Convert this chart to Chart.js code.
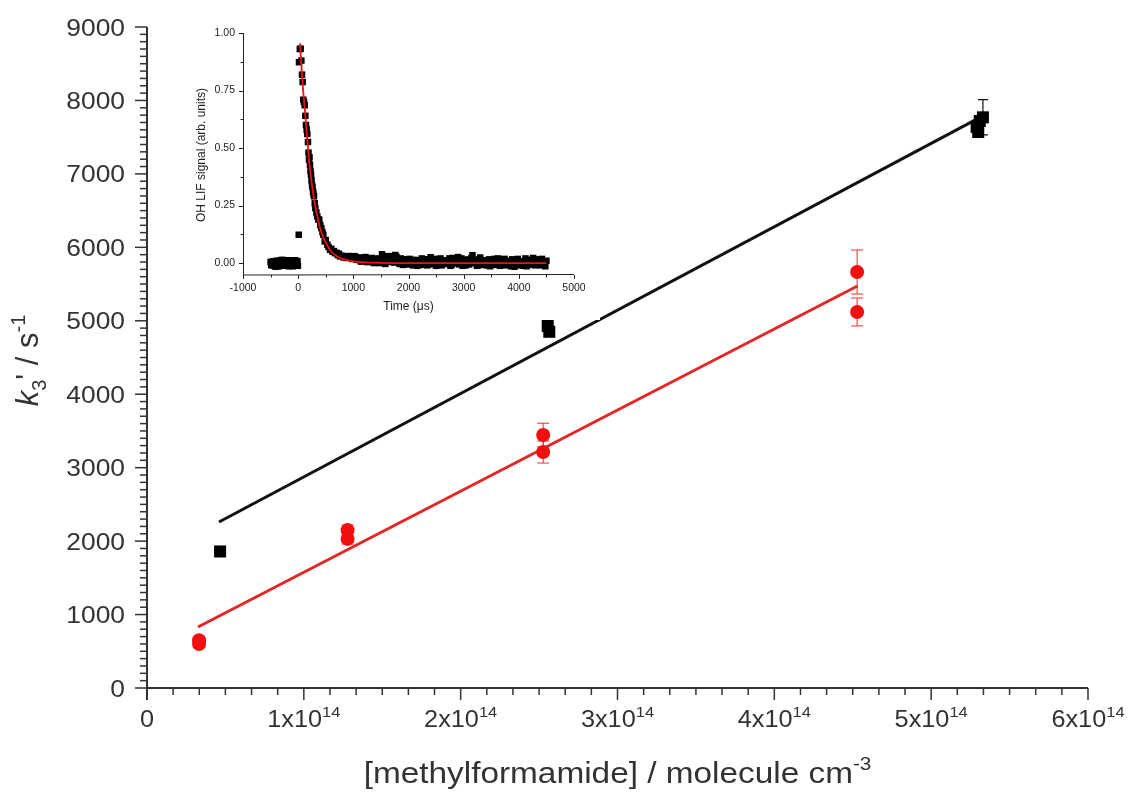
<!DOCTYPE html>
<html><head><meta charset="utf-8">
<script src="https://cdn.jsdelivr.net/npm/chart.js@4.4.1/dist/chart.umd.min.js"></script>
<style>
html,body{margin:0;padding:0;background:#fff;}
#wrap{position:relative;width:1132px;height:798px;overflow:hidden;}
#main{position:absolute;left:0;top:0;}
#inset{position:absolute;left:190px;top:15px;background:#fff;}
</style></head><body>
<div id="wrap"><canvas id="main" width="1132" height="798"></canvas><canvas id="inset" width="410" height="305"></canvas></div>
<script>
// ---------- MAIN CHART DATA ----------
const blackConc = [0.466e14, 2.555e14, 2.565e14, 5.29e14, 5.30e14, 5.31e14, 5.33e14];
const blackK    = [1859, 4930, 4850, 7640, 7570, 7720, 7770];
const blackErr  = [40, 50, 50, 60, 60, 60, 240];

const redConc = [0.332e14, 0.332e14, 1.279e14, 1.279e14, 2.526e14, 2.526e14, 4.528e14, 4.528e14];
const redK    = [650, 600, 2150, 2030, 3445, 3213, 5664, 5120];
const redErr  = [40, 40, 70, 70, 160, 150, 300, 190];

const blackFitConc = [0.459e14, 5.33e14];
const blackFitK    = [2260, 7789];
const redFitConc   = [0.325e14, 4.53e14];
const redFitK      = [830, 5474];

const yTickValues = [0,1000,2000,3000,4000,5000,6000,7000,8000,9000];
const yTickLabels = ['0','1000','2000','3000','4000','5000','6000','7000','8000','9000'];
const xTickValues = [0,1e14,2e14,3e14,4e14,5e14,6e14];
const xTickBase   = ['0','1x10','2x10','3x10','4x10','5x10','6x10'];
const xTickExp    = ['','14','14','14','14','14','14'];

// ---------- INSET DATA (OH LIF decay) ----------
const insetTime = [
 -500,-480,-460,-440,-420,-400,-380,-360,-340,-320,-300,-280,-260,-240,-220,-200,-180,-160,-140,-120,-100,-80,-60,-40,-20,-5,
 10,15,46,70,82,93,118,142,166,178,196,214,233,251,269,287,311,347,383,420,456,481,528,577,620,668,720,758,820,880,
 920,960,1000,1040,1080,1120,1160,1200,1240,1280,1320,1360,1400,1440,1480,1520,1560,1600,1640,1680,1720,1760,1800,1840,1880,1920,1960,
 2000,2040,2080,2120,2160,2200,2240,2280,2320,2360,2400,2440,2480,2520,2560,2600,2640,2680,2720,2760,2800,2840,2880,2920,2960,
 3000,3040,3080,3120,3160,3200,3240,3280,3320,3360,3400,3440,3480,3520,3560,3600,3640,3680,3720,3760,3800,3840,3880,3920,3960,
 4000,4040,4080,4120,4160,4200,4240,4280,4320,4360,4400,4440,4480,4500];
const insetSignal = [
 0.005,-0.010,0.000,-0.012,0.008,-0.005,0.010,-0.015,0.002,0.012,-0.008,0.006,-0.012,0.004,0.010,-0.006,0.012,-0.010,0.003,0.008,-0.014,0.006,0.012,-0.004,0.009,-0.012,
 0.123,0.873,0.932,0.819,0.787,0.710,0.686,0.600,0.561,0.526,0.449,0.427,0.384,0.340,0.312,0.290,0.239,0.203,0.188,0.152,0.123,0.094,0.080,0.058,0.050,0.043,0.035,0.029,0.025,0.022,
 0.030,0.024,0.020,0.026,0.018,0.012,0.022,0.015,0.008,0.020,0.010,0.004,0.016,0.008,0.000,0.038,0.012,0.020,0.005,0.030,0.018,0.035,0.006,-0.004,0.014,0.000,0.008,
 -0.006,0.010,-0.010,0.004,-0.012,0.012,0.020,-0.008,0.016,0.003,0.025,-0.006,0.010,0.000,0.014,-0.010,0.006,-0.004,0.012,-0.012,0.022,0.004,0.018,-0.006,0.020,
 0.008,-0.010,0.015,0.010,0.034,0.000,-0.012,0.016,0.004,-0.008,0.012,0.002,-0.014,0.010,0.018,-0.006,0.008,0.000,0.014,-0.010,0.006,-0.004,0.016,-0.016,0.010,
 -0.006,0.004,-0.012,0.020,0.008,-0.008,0.012,-0.004,0.006,0.016,-0.010,0.004,-0.014,0.010];
// interleaved samples (the dense baseline band)
const insetTime2 = [
 940,980,1020,1060,1100,1140,1180,1220,1260,1300,
 1340,1380,1420,1460,1500,1540,1580,1620,1660,1700,
 1740,1780,1820,1860,1900,1940,1980,2020,2060,2100,
 2140,2180,2220,2260,2300,2340,2380,2420,2460,2500,
 2540,2580,2620,2660,2700,2740,2780,2820,2860,2900,
 2940,2980,3020,3060,3100,3140,3180,3220,3260,3300,
 3340,3380,3420,3460,3500,3540,3580,3620,3660,3700,
 3740,3780,3820,3860,3900,3940,3980,4020,4060,4100,
 4140,4180,4220,4260,4300,4340,4380,4420,4460,
 -490,-450,-410,-370,-330,-290,-250,-210,-170,-130,-90,-50,-15,
 30,58,106,130,154,188,205,224,242,260,278,300,330,365,400,440,500,550,600,650,700,740,790,850,900];
const insetSignal2 = [
 0.028,0.018,0.030,0.014,0.024,0.006,0.018,0.026,0.004,0.016,
 0.022,0.000,0.012,0.020,0.006,0.026,-0.004,0.030,0.010,0.022,
 0.002,0.028,0.012,0.020,-0.008,0.016,0.004,0.018,-0.002,0.014,
 0.006,-0.008,0.004,0.016,0.000,-0.010,0.010,0.002,0.018,-0.012,
 0.008,0.020,-0.004,0.012,0.000,0.020,-0.008,0.012,-0.002,0.026,
 0.006,-0.012,0.014,0.002,-0.006,0.022,0.012,0.006,-0.010,0.024,
 0.000,0.010,-0.010,0.016,0.004,-0.008,0.012,0.020,-0.012,0.006,
 0.018,0.000,0.010,-0.014,0.012,0.004,0.018,-0.010,0.008,0.002,
 -0.014,0.014,0.000,0.022,-0.010,0.010,0.004,0.018,-0.006,
 -0.006,0.008,-0.016,0.004,-0.010,0.014,-0.004,0.008,-0.014,0.010,0.000,-0.010,0.006,
 0.930,0.880,0.700,0.640,0.580,0.480,0.460,0.400,0.360,0.330,0.300,0.260,0.220,0.190,0.165,0.135,0.100,0.070,0.062,0.052,0.044,0.040,0.032,0.026,0.030];
const insetFitTime   = [33,80,124,160,196,250,300,350,400,450,500,600,700,800,1000,1200,1500,2000,3000,4500];
const insetFitSignal = [0.955,0.78,0.66,0.55,0.45,0.34,0.26,0.20,0.15,0.115,0.09,0.05,0.03,0.018,0.007,0.003,0.001,0.0,0.0,0.0];

const iyTickValues = [0,0.25,0.5,0.75,1.0];
const iyTickLabels = ['0.00','0.25','0.50','0.75','1.00'];
const ixTickValues = [-1000,0,1000,2000,3000,4000,5000];
const ixTickLabels = ['-1000','0','1000','2000','3000','4000','5000'];

// ---------- helpers ----------
const FAM = '"Liberation Sans", Arial, sans-serif';
function fontStr(p, base){ return (p.it?'italic ':'') + (p.s||base) + 'px ' + FAM; }
function drawRich(ctx, parts, x, y, base, align, sx){
  sx = sx||1;
  let w = 0;
  parts.forEach(p=>{ ctx.font = fontStr(p, base); w += ctx.measureText(p.t).width; });
  ctx.save();
  ctx.translate(x, y); ctx.scale(sx, 1);
  let cx = align==='center' ? -w/2 : (align==='right' ? -w : 0);
  ctx.textAlign = 'left'; ctx.textBaseline = 'alphabetic';
  parts.forEach(p=>{ ctx.font = fontStr(p, base); ctx.fillText(p.t, cx, p.dy||0); cx += ctx.measureText(p.t).width; });
  ctx.restore();
}
function pts(xs, ys){ return xs.map((x,i)=>({x:x, y:ys[i]})); }

// ---------- main plugins ----------
const errorBars = {
  id:'errorBars',
  beforeDatasetsDraw(chart){
    const ctx = chart.ctx, xs = chart.scales.x, ys = chart.scales.y;
    ctx.save();
    [[blackConc,blackK,blackErr,'#111',1.2,5],[redConc,redK,redErr,'#e53030',1,6]].forEach(([X,Y,E,c,lw,cap])=>{
      ctx.strokeStyle = c; ctx.lineWidth = lw;
      X.forEach((xv,i)=>{
        const px = xs.getPixelForValue(xv), top = ys.getPixelForValue(Y[i]+E[i]), bot = ys.getPixelForValue(Y[i]-E[i]);
        ctx.beginPath();
        ctx.moveTo(px, top); ctx.lineTo(px, bot);
        ctx.moveTo(px-cap, top); ctx.lineTo(px+cap, top);
        ctx.moveTo(px-cap, bot); ctx.lineTo(px+cap, bot);
        ctx.stroke();
      });
    });
    ctx.restore();
  }
};

const mainAxes = {
  id:'mainAxes',
  afterDraw(chart){
    const ctx = chart.ctx, xs = chart.scales.x, ys = chart.scales.y, a = chart.chartArea;
    const col = '#333';
    ctx.save();
    ctx.strokeStyle = col; ctx.fillStyle = col;
    ctx.lineWidth = 2;
    ctx.beginPath(); ctx.moveTo(a.left, a.top); ctx.lineTo(a.left, a.bottom + 12); ctx.stroke();
    ctx.beginPath(); ctx.moveTo(a.left - 1, a.bottom); ctx.lineTo(a.right, a.bottom); ctx.stroke();
    ctx.lineWidth = 1.5;
    for (let v = 0; v <= 9000; v += 100){
      const y = ys.getPixelForValue(v);
      const major = (v % 1000 === 0);
      ctx.beginPath(); ctx.moveTo(a.left - (major?12:7), y); ctx.lineTo(a.left, y); ctx.stroke();
    }
    for (let k = 0; k <= 36; k++){
      const x = xs.getPixelForValue(k * 1e14 / 6);
      const major = (k % 6 === 0);
      ctx.beginPath(); ctx.moveTo(x, a.bottom); ctx.lineTo(x, a.bottom + (major?12:7)); ctx.stroke();
    }
    yTickValues.forEach((v,i)=>{
      drawRich(ctx, [{t:yTickLabels[i]}], a.left - 22, ys.getPixelForValue(v) + 8.5, 24, 'right', 1.1);
    });
    xTickValues.forEach((v,i)=>{
      const parts = [{t:xTickBase[i]}];
      if (xTickExp[i]) parts.push({t:xTickExp[i], s:15, dy:-10});
      drawRich(ctx, parts, xs.getPixelForValue(v), a.bottom + 39, 23, 'center', 1.1);
    });
    drawRich(ctx, [{t:'[methylformamide] / molecule cm'},{t:'-3', s:18, dy:-13}],
      (a.left + a.right)/2, a.bottom + 95, 29, 'center', 1.15);
    ctx.save();
    ctx.translate(38, (a.top + a.bottom)/2 + 3);
    ctx.rotate(-Math.PI/2);
    drawRich(ctx, [{t:'k', it:true},{t:'3', s:20, dy:8},{t:"' / s"},{t:'-1', s:20, dy:-13}], 0, 0, 31, 'center', 1);
    ctx.restore();
    ctx.restore();
  }
};

new Chart(document.getElementById('main'), {
  type:'scatter',
  data:{ datasets:[
    {label:'black', data:pts(blackConc, blackK), pointStyle:'rect', pointRadius:8.5, backgroundColor:'#000', borderColor:'#000', borderWidth:0},
    {label:'red', data:pts(redConc, redK), pointStyle:'circle', pointRadius:7, backgroundColor:'#f01010', borderColor:'#f01010', borderWidth:0},
    {label:'black fit', data:pts(blackFitConc, blackFitK), showLine:true, pointRadius:0, borderColor:'#111', borderWidth:3},
    {label:'red fit', data:pts(redFitConc, redFitK), showLine:true, pointRadius:0, borderColor:'#e52626', borderWidth:3}
  ]},
  options:{
    responsive:false, animation:false, devicePixelRatio:1,
    layout:{padding:{left:0, top:27, right:44, bottom:0}},
    plugins:{legend:{display:false}, tooltip:{enabled:false}},
    scales:{
      x:{type:'linear', min:0, max:6e14, grid:{display:false}, border:{display:false}, ticks:{display:false}, afterFit:(s)=>{s.height=110;}},
      y:{type:'linear', min:0, max:9000, grid:{display:false}, border:{display:false}, ticks:{display:false}, afterFit:(s)=>{s.width=147;}}
    }
  },
  plugins:[errorBars, mainAxes]
});

// ---------- inset ----------
const insetAxes = {
  id:'insetAxes',
  afterDraw(chart){
    const ctx = chart.ctx, xs = chart.scales.x, ys = chart.scales.y, a = chart.chartArea;
    const col = '#222';
    ctx.save();
    ctx.strokeStyle = col; ctx.fillStyle = col; ctx.lineWidth = 1;
    ctx.beginPath(); ctx.moveTo(a.left+0.5, a.top); ctx.lineTo(a.left+0.5, a.bottom); ctx.lineTo(a.right, a.bottom-0.5); ctx.stroke();
    for (let v = 0; v <= 1.0001; v += 0.125){
      const y = Math.round(ys.getPixelForValue(v)) + 0.5;
      const major = Math.abs(v*4 - Math.round(v*4)) < 1e-6;
      ctx.beginPath(); ctx.moveTo(a.left - (major?4:2.5), y); ctx.lineTo(a.left, y); ctx.stroke();
    }
    for (let v = -1000; v <= 5000; v += 500){
      const x = Math.round(xs.getPixelForValue(v)) + 0.5;
      const major = (v % 1000 === 0);
      ctx.beginPath(); ctx.moveTo(x, a.bottom); ctx.lineTo(x, a.bottom + (major?4:2.5)); ctx.stroke();
    }
    ctx.font = '10.5px ' + FAM; ctx.textAlign = 'right'; ctx.textBaseline = 'middle';
    iyTickValues.forEach((v,i)=>{ ctx.fillText(iyTickLabels[i], a.left - 8, ys.getPixelForValue(v)); });
    ctx.textAlign = 'center'; ctx.textBaseline = 'middle';
    ixTickValues.forEach((v,i)=>{ ctx.fillText(ixTickLabels[i], xs.getPixelForValue(v), a.bottom + 13); });
    ctx.font = '12px ' + FAM;
    ctx.fillText('Time (\u03bcs)', (a.left + a.right)/2, a.bottom + 32);
    ctx.save();
    ctx.translate(12, 140); ctx.rotate(-Math.PI/2);
    ctx.fillText('OH LIF signal (arb. units)', 0, 0);
    ctx.restore();
    ctx.restore();
  }
};

new Chart(document.getElementById('inset'), {
  type:'scatter',
  data:{ datasets:[
    {label:'fit', data:pts(insetFitTime, insetFitSignal), showLine:true, pointRadius:0, borderColor:'#ee1111', borderWidth:1.8, cubicInterpolationMode:'monotone'},
    {label:'signal', data:pts(insetTime, insetSignal), pointStyle:'rect', pointRadius:4.6, backgroundColor:'#000', borderColor:'#000', borderWidth:0},
    {label:'signal2', data:pts(insetTime2, insetSignal2), pointStyle:'rect', pointRadius:4.6, backgroundColor:'#000', borderColor:'#000', borderWidth:0}
  ]},
  options:{
    responsive:false, animation:false, devicePixelRatio:1,
    layout:{padding:{left:0, top:18, right:26, bottom:0}},
    plugins:{legend:{display:false}, tooltip:{enabled:false}},
    scales:{
      x:{type:'linear', min:-1000, max:5000, grid:{display:false}, border:{display:false}, ticks:{display:false}, afterFit:(s)=>{s.height=45;}},
      y:{type:'linear', min:-0.052, max:1.0, grid:{display:false}, border:{display:false}, ticks:{display:false}, afterFit:(s)=>{s.width=53;}}
    }
  },
  plugins:[insetAxes]
});
</script>
</body></html>
